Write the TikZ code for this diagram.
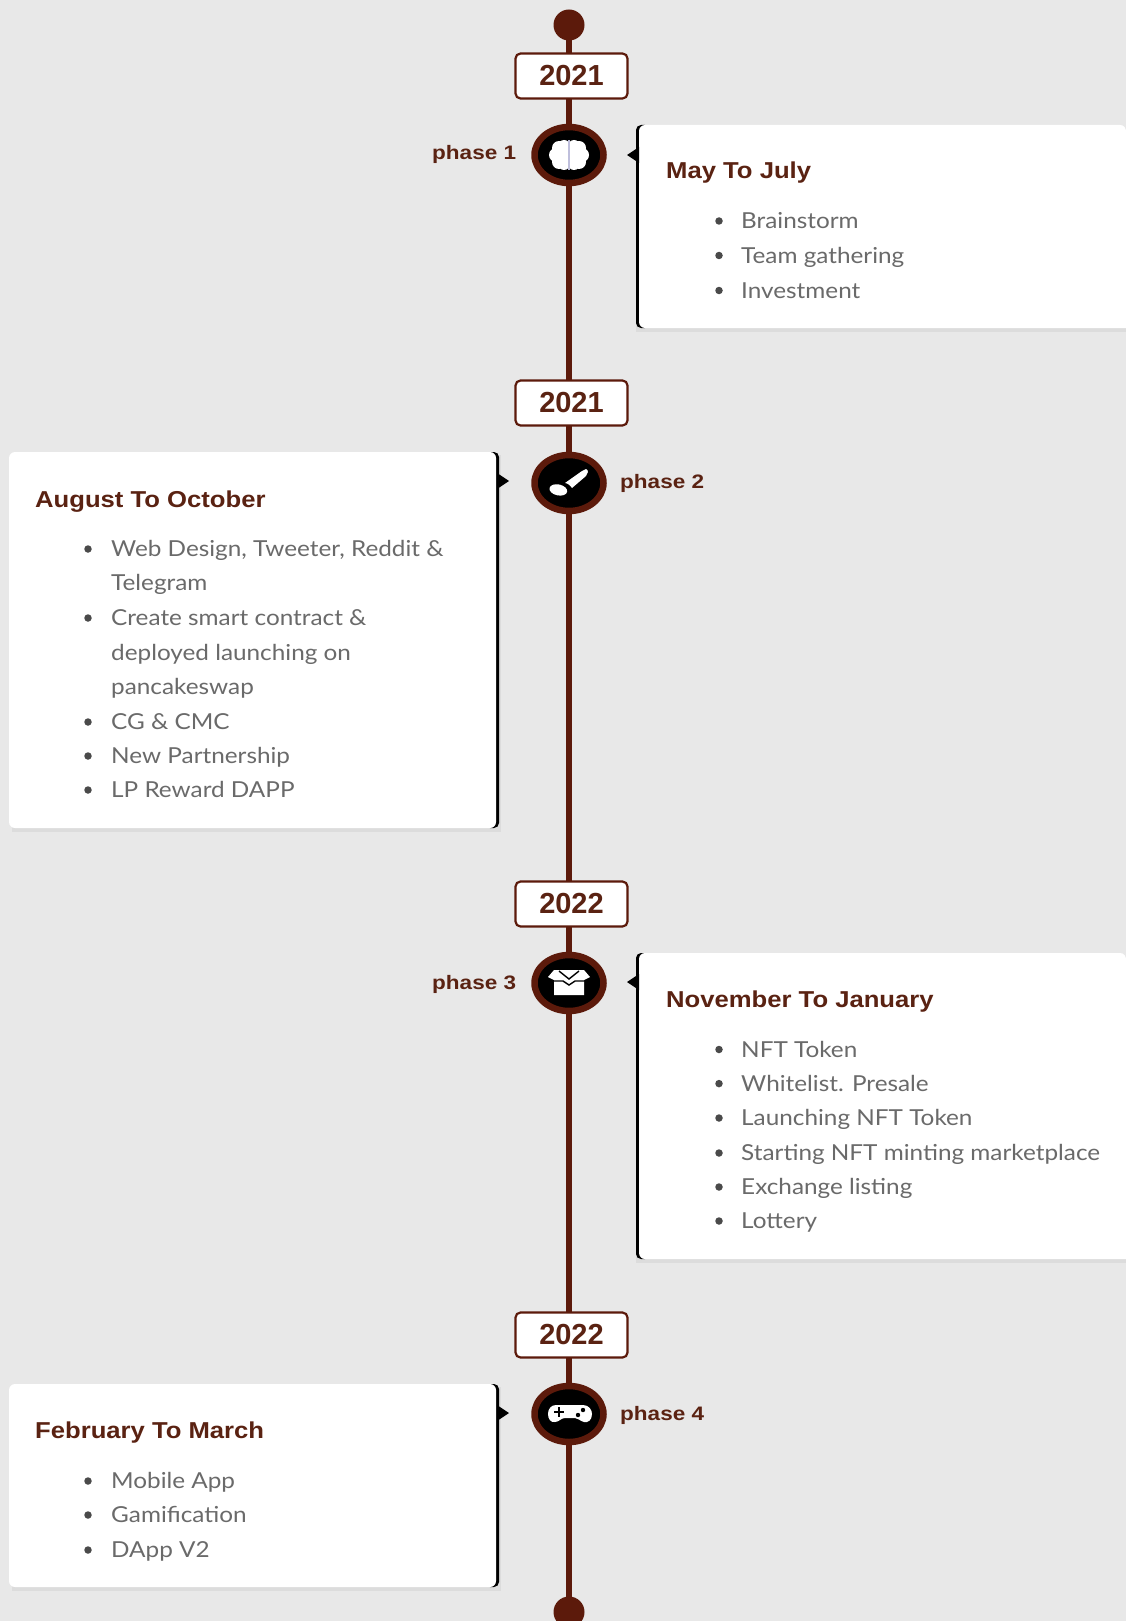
\documentclass[tikz,border=0pt]{standalone}
\usepackage{fontspec}
\setmainfont[FakeStretch=1.105]{Lato}
\newfontfamily\headfont{Liberation Sans}
\newfontfamily\titlefont[FakeStretch=1.115]{Liberation Sans}
\newfontfamily\phasefont[FakeStretch=1.155]{Liberation Sans}
\usetikzlibrary{shapes.geometric,backgrounds}
\definecolor{bgc}{HTML}{E8E8E8}
\definecolor{brn}{HTML}{5C1A0B}
\definecolor{ttl}{HTML}{5A2212}
\definecolor{itm}{HTML}{6A6A6A}
\tikzset{
  x=1pt,y=-1pt,
  spine/.style={draw=brn,line width=6.5pt},
  enddot/.style={circle,fill=brn,minimum size=31pt,inner sep=0pt},
  yearbox/.style={draw=brn,line width=2.2pt,fill=white,rounded corners=5pt,minimum width=112pt,minimum height=45pt,inner sep=0pt,text=ttl,font=\headfont\bfseries\fontsize{29}{29}\selectfont},
  phasenode/.style={ellipse,draw=brn,line width=6.5pt,fill=black,minimum width=69pt,minimum height=56pt,inner sep=0pt},
  phaselabel/.style={text=ttl,font=\phasefont\bfseries\fontsize{19.5}{19.5}\selectfont,inner sep=0pt,anchor=base west},
  cardtitle/.style={text=ttl,font=\titlefont\bfseries\fontsize{23}{23}\selectfont,inner sep=0pt,anchor=base west},
  carditem/.style={text=itm,font=\fontsize{22}{22}\selectfont,inner sep=0pt,anchor=base west},
  bulletdot/.style={circle,fill=itm!70!black,minimum size=7.5pt,inner sep=0pt},
  cardfill/.style={fill=white,rounded corners=6pt},
  shade/.style={fill=black,opacity=.05},
  edgebar/.style={fill=black,rounded corners=5pt},
  notch/.style={fill=black},
  icon/.style={fill=white,draw=none},
}
\begin{document}
\begin{tikzpicture}
\useasboundingbox (0,0) rectangle (1126,1621);
% nodes of the spine
\node[enddot] (dotA) at (569,25) {};
\node[yearbox] (yearA) at (571.5,76) {2021};
\node[phasenode] (phA) at (569,155) {};
\node[yearbox] (yearB) at (571.5,403) {2021};
\node[phasenode] (phB) at (569,483) {};
\node[yearbox] (yearC) at (571.5,904) {2022};
\node[phasenode] (phC) at (569,983) {};
\node[yearbox] (yearD) at (571.5,1335) {2022};
\node[phasenode] (phD) at (569,1414) {};
\node[enddot] (dotB) at (569,1612) {};
\begin{scope}[on background layer]
  \fill[bgc] (0,0) rectangle (1126,1621);
  \draw[spine] (dotA.center) -- (phA.center) (phA.center) -- (phB.center) (phB.center) -- (phC.center) (phC.center) -- (phD.center) (phD.center) -- (dotB.center);
\end{scope}
% phase labels
\node[phaselabel] (lbA) at (432,160) {phase 1};
\node[phaselabel] (lbB) at (620,488) {phase 2};
\node[phaselabel] (lbC) at (432,989) {phase 3};
\node[phaselabel] (lbD) at (620,1420) {phase 4};
% icons
\begin{scope}[shift={(phA.center)}]
  \fill[icon] (-10,-7) circle (7) (-10,7) circle (7) (-13,0) circle (7) (-5,-9) circle (6) (-5,9) circle (6)
              (10,-7) circle (7) (10,7) circle (7) (13,0) circle (7) (5,-9) circle (6) (5,9) circle (6) (0,0) circle (12);
  \draw[color=black!55!blue!25!white,line width=1.2pt] (0,-15) -- (0,15);
\end{scope}
\begin{scope}[shift={(phB.center)}]
  \fill[icon] (17,-14) .. controls (20,-13) and (19,-9) .. (17,-7) -- (3,5) .. controls (1,2) and (-2,0) .. (-4,0) -- (13,-12) -- cycle;
  \fill[icon,rotate=-12] (-9,9) ellipse (9 and 5.5);
\end{scope}
\begin{scope}[shift={(phC.center)}]
  \fill[icon] (-15,-13) -- (15,-13) -- (21,-6) -- (15,-3) -- (15,12) -- (-15,12) -- (-15,-3) -- (-21,-6) -- cycle;
  \draw[black,line width=1.4pt] (-16,-2) -- (-6,-2) -- (0,2) -- (6,-2) -- (16,-2);
  \draw[black,line width=1.4pt] (-10,-12) -- (0,-4) -- (10,-12);
\end{scope}
\begin{scope}[shift={(phD.center)}]
  \fill[icon] (-13,-9) -- (14,-9) .. controls (20,-9) and (23,-4) .. (23,0) .. controls (23,6) and (19,9) .. (15,8) .. controls (11,7) and (9,4) .. (6,4) -- (-4,4) .. controls (-8,4) and (-10,8) .. (-14,8) .. controls (-18,9) and (-21,5) .. (-21,0) .. controls (-21,-5) and (-18,-9) .. (-13,-9) -- cycle;
  \draw[black,line width=1.6pt] (-15,-2) -- (-5,-2) (-10,-7) -- (-10,3);
  \fill[black] (14,-4) circle (2.2) (9,1) circle (2.2);
\end{scope}
% card 1
\fill[shade] (636,128) rectangle (1126,332);
\fill[edgebar] (636,125) rectangle (650,328);
\fill[cardfill] (639,125) -- (1126,125) [sharp corners] -- (1126,328) [rounded corners=6pt] -- (639,328) -- cycle;
\fill[notch] (627,155) -- (639,147) -- (639,163) -- cycle;
\node[cardtitle] (tA) at (666,179) {May To July};
\foreach \n/\y/\t in {a/221/Brainstorm,b/255.5/Team gathering,c/290.5/Investment}{
  \node[bulletdot] (bA\n) at (719,\y) {};
  \node[carditem] (iA\n) at (741,\y+7.5) {\t};
}
% card 2
\fill[shade] (12,455) rectangle (501,832);
\fill[edgebar] (485,452) rectangle (499,828);
\fill[cardfill] (9,452) rectangle (496,828);
\fill[notch] (509,481) -- (497,473) -- (497,489) -- cycle;
\node[cardtitle] (tB) at (35,507) {August To October};
\foreach \n/\y in {a/549,b/618,c/722,d/756,e/790}{
  \node[bulletdot] (bB\n) at (88,\y) {};
}
\foreach \n/\y/\t in {a/549/{Web Design, Tweeter, Reddit \&},b/583/Telegram,c/618/{Create smart contract \&},d/652.5/deployed launching on,e/687/pancakeswap,f/722/{CG \& CMC},g/756/New Partnership,h/790/LP Reward DAPP}{
  \node[carditem] (iB\n) at (111,\y+7.5) {\t};
}
% card 3
\fill[shade] (636,956) rectangle (1126,1263);
\fill[edgebar] (636,953) rectangle (650,1259);
\fill[cardfill] (639,953) -- (1126,953) [sharp corners] -- (1126,1259) [rounded corners=6pt] -- (639,1259) -- cycle;
\fill[notch] (627,982) -- (639,974) -- (639,990) -- cycle;
\node[cardtitle] (tC) at (666,1007) {November To January};
\foreach \n/\y/\t in {a/1049.5/NFT Token,b/1083.6/{Whitelist. Presale},c/1118/Launching NFT Token,d/1153/Starting NFT minting marketplace,e/1187/Exchange listing,f/1221/Lottery}{
  \node[bulletdot] (bC\n) at (719,\y) {};
  \node[carditem] (iC\n) at (741,\y+7.5) {\t};
}
% card 4
\fill[shade] (12,1387) rectangle (501,1591);
\fill[edgebar] (485,1384) rectangle (499,1587);
\fill[cardfill] (9,1384) rectangle (496,1587);
\fill[notch] (509,1413) -- (497,1405) -- (497,1421) -- cycle;
\node[cardtitle] (tD) at (35,1438) {February To March};
\foreach \n/\y/\t in {a/1481/Mobile App,b/1515/Gamification,c/1550/DApp V2}{
  \node[bulletdot] (bD\n) at (88,\y) {};
  \node[carditem] (iD\n) at (111,\y+7.5) {\t};
}
\end{tikzpicture}
\end{document}
